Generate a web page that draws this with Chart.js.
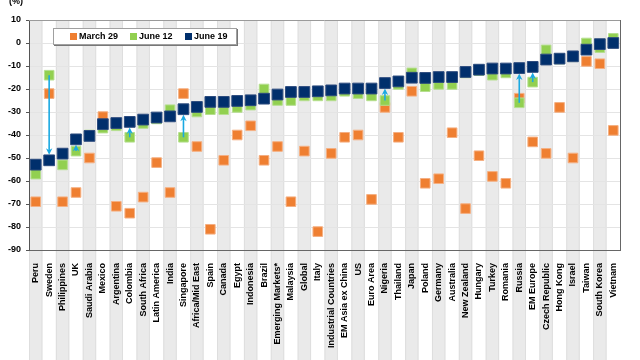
<!DOCTYPE html>
<html><head><meta charset="utf-8">
<style>html,body{margin:0;padding:0;background:#fff}#wrap{width:640px;height:360px}</style>
<script src="https://cdn.jsdelivr.net/npm/chart.js@4"></script>
</head><body><div id="wrap"><canvas id="c" width="640" height="360"></canvas></div>
<script>
const categories = ['Peru','Sweden','Philippines','UK','Saudi Arabia','Mexico','Argentina','Colombia','South Africa','Latin America','India','Singapore','Africa/Mid East','Spain','Canada','Egypt','Indonesia','Brazil','Emerging Markets*','Malaysia','Global','Italy','Industrial Countries','EM Asia ex China','US','Euro Area','Nigeria','Thailand','Japan','Poland','Germany','Australia','New Zealand','Hungary','Turkey','Romania','Russia','EM Europe','Czech Republic','Hong Kong','Israel','Taiwan','South Korea','Vietnam'];
const march29 = [-69,-22,-69,-65,-50,-32,-71,-74,-67,-52,-65,-22,-45,-81,-51,-40,-36,-51,-45,-69,-47,-82,-48,-41,-40,-68,-28,-41,-21,-61,-59,-39,-72,-49,-58,-61,-24,-43,-48,-28,-50,-8,-9,-38];
const june12 = [-57,-14,-53,-47,-40,-37,-36,-41,-35,-33,-29,-41,-30,-29,-29,-28,-27,-20,-25,-25,-23,-23,-23,-21,-22,-23,-25,-18,-13,-19,-18,-18,-13,-12,-14,-13,-26,-17,-3,-7,-6,0,-2,2];
const june19 = [-52.9,-51,-48.1,-41.9,-40.4,-35.3,-34.8,-34.3,-33.3,-32.4,-31.9,-28.8,-27.8,-25.6,-25.6,-25.2,-24.9,-24.2,-22.4,-21.3,-21.3,-21,-20.6,-19.8,-19.8,-19.8,-17.4,-16.7,-15.1,-15.2,-14.8,-14.8,-12.6,-11.6,-11.1,-11.1,-10.9,-10.4,-7.2,-6.8,-5.8,-2.9,-0.5,0];
const arrowCategories = ['Sweden','UK','Colombia','Singapore','Nigeria','Russia','EM Europe'];
const seriesLabels = ['March 29','June 12','June 19'];
const seriesColors = ['#ef7f31','#92d050','#002f6c'];
const yMin = -90, yMax = 10, yStep = 10;
const unitLabel = '(%)';

const FONT = "'Liberation Sans', Arial, sans-serif";

const bandsPlugin = {
  id: 'bands',
  beforeDraw(chart) {
    const {ctx, chartArea, scales: {x}} = chart;
    const w = (chartArea.right - chartArea.left) / categories.length;
    ctx.save();
    categories.forEach((c, i) => {
      if (i % 2 === 0) {
        const cx = x.getPixelForValue(i);
        ctx.fillStyle = '#eaeaea';
        ctx.fillRect(cx - w / 2, chartArea.top, w, chart.height - chartArea.top);
        ctx.fillStyle = '#dedede';
        ctx.fillRect(cx - w / 2, chartArea.top, 1, chart.height - chartArea.top);
        ctx.fillRect(cx + w / 2 - 1, chartArea.top, 1, chart.height - chartArea.top);
      }
    });
    ctx.restore();
  },
  beforeDatasetsDraw(chart) {
    const {ctx, chartArea} = chart;
    ctx.save();
    ctx.lineWidth = 1;
    ctx.strokeStyle = '#9a9a9a';
    ctx.beginPath();
    ctx.moveTo(chartArea.left, chartArea.top + 0.5);
    ctx.lineTo(chartArea.right, chartArea.top + 0.5);
    ctx.stroke();
    ctx.strokeStyle = '#666';
    ctx.beginPath();
    ctx.moveTo(Math.round(chartArea.right) + 0.5, chartArea.top);
    ctx.lineTo(Math.round(chartArea.right) + 0.5, chartArea.bottom);
    ctx.stroke();
    ctx.restore();
  }
};

const arrowsPlugin = {
  id: 'arrows',
  afterDatasetDraw(chart, args) {
    if (args.index !== 1) return;
    const {ctx, scales: {x, y}} = chart;
    ctx.save();
    ctx.strokeStyle = '#1aa9e2';
    ctx.fillStyle = '#1aa9e2';
    ctx.lineWidth = 1.6;
    arrowCategories.forEach(name => {
      const i = categories.indexOf(name);
      const px = x.getPixelForValue(i);
      const y0 = y.getPixelForValue(june12[i]);
      const yt = y.getPixelForValue(june19[i]);
      const dir = yt > y0 ? 1 : -1;
      const y1 = yt - dir * 5.5;
      ctx.beginPath();
      ctx.moveTo(px, y0);
      ctx.lineTo(px, y1 - dir * 3);
      ctx.stroke();
      ctx.beginPath();
      ctx.moveTo(px, y1);
      ctx.lineTo(px - 3.2, y1 - dir * 6.5);
      ctx.lineTo(px, y1 - dir * 4.5);
      ctx.lineTo(px + 3.2, y1 - dir * 6.5);
      ctx.closePath();
      ctx.fill();
    });
    ctx.restore();
  }
};

const legendPlugin = {
  id: 'boxLegend',
  afterDraw(chart) {
    const {ctx} = chart;
    ctx.save();
    ctx.fillStyle = '#000';
    ctx.font = 'bold 9px ' + FONT;
    ctx.textAlign = 'left';
    ctx.textBaseline = 'middle';
    ctx.fillText(unitLabel, 9, 2);
    const bx = 53, by = 28, bw = 184, bh = 17;
    ctx.fillStyle = '#777';
    ctx.fillRect(bx + 1, by + 1, bw, bh);
    ctx.fillStyle = '#fff';
    ctx.fillRect(bx, by, bw, bh);
    ctx.strokeStyle = '#a0a0a0';
    ctx.lineWidth = 1;
    ctx.strokeRect(bx + 0.5, by + 0.5, bw - 1, bh - 1);
    const xs = [70, 130, 185];
    seriesLabels.forEach((lab, k) => {
      ctx.fillStyle = seriesColors[k];
      ctx.fillRect(xs[k], by + 5, 7, 7);
      ctx.fillStyle = '#000';
      ctx.fillText(lab, xs[k] + 9, by + 9);
    });
    ctx.restore();
  }
};

new Chart(document.getElementById('c'), {
  type: 'line',
  data: {
    labels: categories,
    datasets: [
      {label: seriesLabels[0], data: march29, showLine: false, pointStyle: 'rect', pointRadius: 6.8,
       backgroundColor: seriesColors[0], borderColor: '#f5b083', borderWidth: 1, order: 2},
      {label: seriesLabels[1], data: june12, showLine: false, pointStyle: 'rect', pointRadius: 6.8,
       backgroundColor: seriesColors[1], borderColor: '#b6df90', borderWidth: 1, order: 1},
      {label: seriesLabels[2], data: june19, showLine: false, pointStyle: 'rect', pointRadius: 7.6,
       backgroundColor: seriesColors[2], borderColor: '#2c4b7e', borderWidth: 1, order: 0}
    ]
  },
  options: {
    responsive: false,
    animation: false,
    devicePixelRatio: 1,
    layout: {padding: {top: 20, right: 20, left: 0, bottom: 0}},
    plugins: {legend: {display: false}, tooltip: {enabled: false}},
    scales: {
      x: {
        offset: true,
        grid: {display: false},
        border: {display: true, color: '#666', width: 1},
        ticks: {autoSkip: false, maxRotation: 90, minRotation: 90, padding: 5,
                color: '#000', font: {family: FONT, size: 9, weight: 'bold'}},
        afterFit(s) { s.height = 110; }
      },
      y: {
        min: yMin, max: yMax,
        grid: {color: '#e4e4e4', drawTicks: true, tickLength: 3, tickColor: '#555', lineWidth: 1},
        border: {display: true, color: '#555', width: 1},
        ticks: {stepSize: yStep, padding: 5, color: '#000',
                font: {family: FONT, size: 9, weight: 'bold'}},
        afterFit(s) { s.width = 29; }
      }
    }
  },
  plugins: [bandsPlugin, arrowsPlugin, legendPlugin]
});
</script>
</body></html>
